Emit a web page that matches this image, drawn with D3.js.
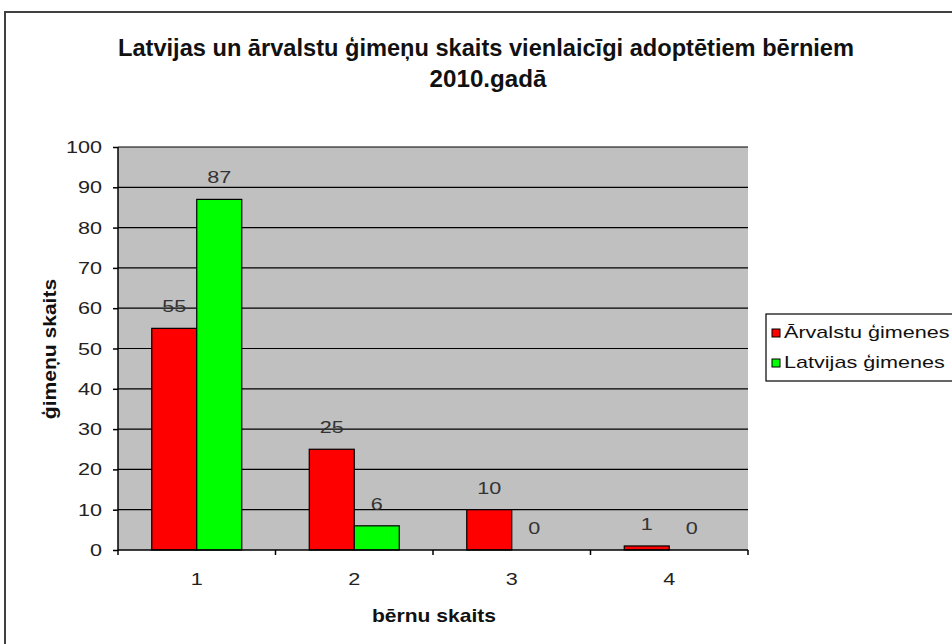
<!DOCTYPE html>
<html>
<head>
<meta charset="utf-8">
<script src="https://cdn.jsdelivr.net/npm/d3@7"></script>
<style>
  body { margin: 0; background: #fff; }
  text { font-family: "Liberation Sans", Arial, sans-serif; }
</style>
</head>
<body>
<div class="container"></div>
<script>
const width = 952;
const height = 644;

// data
const categories = ["1", "2", "3", "4"];
const seriesNames = ["Ārvalstu ģimenes", "Latvijas ģimenes"];
const seriesColors = ["#ff0000", "#00ff00"];
const arvalstu = [55, 25, 10, 1];
const latvijas = [87, 6, 0, 0];
const yTicks = [0, 10, 20, 30, 40, 50, 60, 70, 80, 90, 100];

const plot = { left: 118, right: 748, top: 147, bottom: 550 };
const sx = 1.27;      // the source picture is stretched sideways
const sxBold = 1.17;

const svg = d3.select(".container")
    .append("svg")
    .attr("width", width)
    .attr("height", height);

// put a text at x,y, stretched sideways
function label(parent, x, y, str, opts) {
    const o = Object.assign({ size: 17, bold: false, anchor: "start", stretch: sx, rotate: 0, fill: "#222" }, opts);
    return parent.append("text")
        .attr("transform", `translate(${x},${y}) rotate(${o.rotate}) scale(${o.stretch},1)`)
        .attr("text-anchor", o.anchor)
        .attr("font-size", o.size)
        .attr("font-weight", o.bold ? "bold" : "normal")
        .attr("fill", o.fill)
        .text(str);
}

// outer chart frame
svg.append("rect")
    .attr("x", 5).attr("y", 12)
    .attr("width", width + 20).attr("height", height + 20)
    .attr("fill", "#fff")
    .attr("stroke", "#404040")
    .attr("stroke-width", 2);

// title
svg.append("text")
    .attr("x", 118).attr("y", 56)
    .attr("font-size", 23).attr("font-weight", "bold")
    .attr("fill", "#111")
    .attr("textLength", 736)
    .attr("lengthAdjust", "spacingAndGlyphs")
    .text("Latvijas un ārvalstu ģimeņu skaits vienlaicīgi adoptētiem bērniem");
label(svg, 488, 87, "2010.gadā", { size: 23, bold: true, anchor: "middle", stretch: 1.05, fill: "#111" });

const x = d3.scaleBand()
    .domain(categories)
    .range([plot.left, plot.right])
    .paddingInner(0.4286)
    .paddingOuter(0.2143);

const xs = d3.scaleBand()
    .domain([0, 1])
    .range([0, x.bandwidth()]);

const y = d3.scaleLinear()
    .domain([0, 100])
    .range([plot.bottom, plot.top]);

// plot background
svg.append("rect")
    .attr("x", plot.left).attr("y", plot.top)
    .attr("width", plot.right - plot.left)
    .attr("height", plot.bottom - plot.top)
    .attr("fill", "#c0c0c0");

// gridlines
svg.append("g")
    .selectAll("line")
    .data(yTicks.filter(d => d > 0))
    .enter()
    .append("line")
    .attr("x1", plot.left).attr("x2", plot.right)
    .attr("y1", d => y(d)).attr("y2", d => y(d))
    .attr("stroke", "#000")
    .attr("stroke-width", 1.2);

// bars and value labels
const series = [arvalstu, latvijas];
series.forEach((vals, s) => {
    svg.append("g")
        .selectAll("rect")
        .data(vals)
        .enter()
        .append("rect")
        .attr("x", (d, i) => x(categories[i]) + xs(s))
        .attr("y", d => y(d))
        .attr("width", xs.bandwidth())
        .attr("height", d => y(0) - y(d))
        .attr("fill", seriesColors[s])
        .attr("stroke", d => d > 0 ? "#000" : "none")
        .attr("stroke-width", 1.2);

    const g = svg.append("g");
    vals.forEach((d, i) => {
        label(g, x(categories[i]) + xs(s) + xs.bandwidth() / 2, y(d) - 16, d,
            { anchor: "middle", fill: "#333" });
    });
});

// y axis
const yAxis = svg.append("g")
    .attr("transform", `translate(${plot.left},0)`)
    .call(d3.axisLeft(y).tickValues(yTicks).tickSize(5).tickFormat(""));
yAxis.selectAll("line, path").attr("stroke", "#000").attr("stroke-width", 1.5);
yAxis.select("path").attr("d", `M0,${plot.top}V${plot.bottom}`);

const yLabels = svg.append("g");
yTicks.forEach(t => {
    label(yLabels, 102, y(t) + 6, t, { anchor: "end" });
});

// x axis
svg.append("line")
    .attr("x1", plot.left).attr("x2", plot.right)
    .attr("y1", plot.bottom).attr("y2", plot.bottom)
    .attr("stroke", "#000").attr("stroke-width", 1.5);

const step = x.step();
svg.append("g")
    .selectAll("line")
    .data(d3.range(categories.length + 1))
    .enter()
    .append("line")
    .attr("x1", i => plot.left + i * step).attr("x2", i => plot.left + i * step)
    .attr("y1", plot.bottom).attr("y2", plot.bottom + 5)
    .attr("stroke", "#000").attr("stroke-width", 1.5);

const xLabels = svg.append("g");
categories.forEach(c => {
    label(xLabels, x(c) + x.bandwidth() / 2, 585, c, { anchor: "middle" });
});

// axis titles
label(svg, 434, 622, "bērnu skaits", { size: 18, bold: true, anchor: "middle", stretch: sxBold, fill: "#111" });
label(svg, 56, 349, "ģimeņu skaits", { size: 18, bold: true, anchor: "middle", stretch: sxBold, rotate: -90, fill: "#111" });

// legend
const legend = svg.append("g");
legend.append("rect")
    .attr("x", 766).attr("y", 314)
    .attr("width", 200).attr("height", 67)
    .attr("fill", "#fff")
    .attr("stroke", "#000").attr("stroke-width", 1.2);

seriesNames.forEach((name, i) => {
    legend.append("rect")
        .attr("x", 772).attr("y", 329 + i * 30)
        .attr("width", 8).attr("height", 8)
        .attr("fill", seriesColors[i])
        .attr("stroke", "#000");
    label(legend, 784, 338 + i * 30, name, { fill: "#111" });
});
</script>
</body>
</html>
